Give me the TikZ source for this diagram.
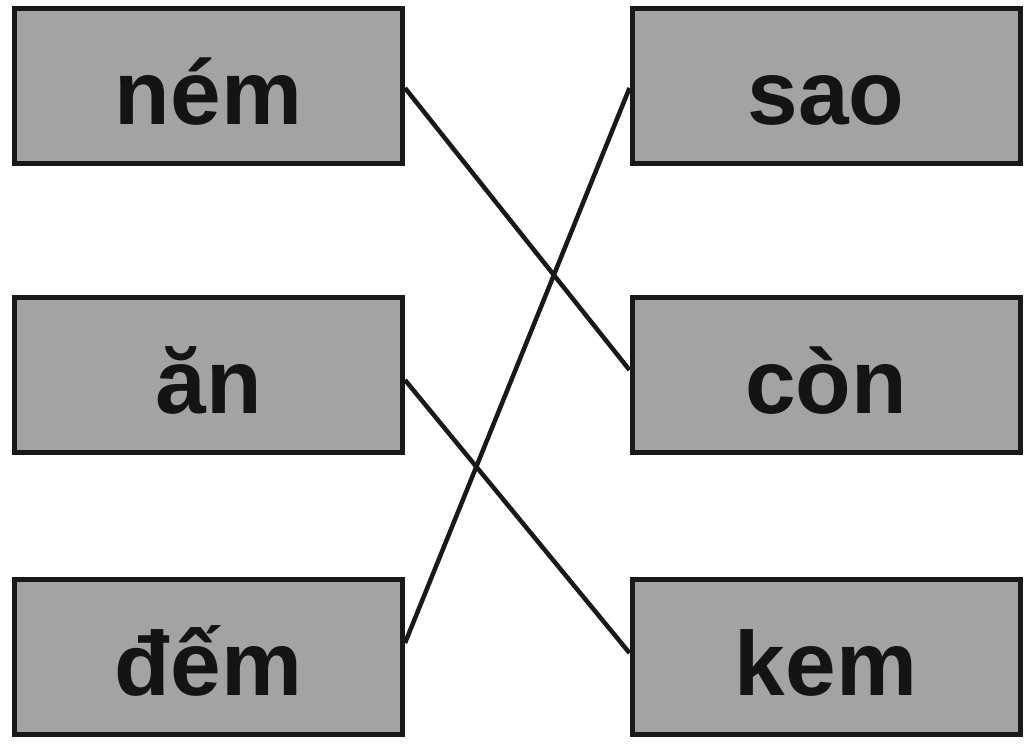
\documentclass[tikz,border=0pt]{standalone}
\usepackage{fontspec}
\setmainfont{Liberation Sans}
\definecolor{boxgray}{RGB}{163,163,163}
\begin{document}
\begin{tikzpicture}[x=1pt,y=-1pt,
  wbox/.style={draw=black!90, line width=5pt, fill=boxgray, rectangle,
    minimum width=388pt, minimum height=155pt, inner sep=0pt,
    text height=76pt, text depth=0pt,
    font=\fontsize{91}{91}\selectfont\bfseries, text=black!92},
  link/.style={draw=black!90, line width=4.5pt}]
\useasboundingbox (0,0) rectangle (1024,744);
\fill[white] (0,0) rectangle (1024,744);
\node[wbox] (nem) at (208.5,86) {ném};
\node[wbox] (an)  at (208.5,375) {ăn};
\node[wbox] (dem) at (208.5,657) {đếm};
\node[wbox] (sao) at (826,86) {sao};
\node[wbox] (con) at (826,375) {còn};
\node[wbox] (kem) at (826,657) {kem};
\draw[link] ([yshift=-2pt]nem.east) -- ([yshift=5pt]con.west);
\draw[link] ([yshift=-5pt]an.east) -- ([yshift=4pt]kem.west);
\draw[link] ([yshift=14pt]dem.east) -- ([yshift=-2pt]sao.west);
\end{tikzpicture}
\end{document}
